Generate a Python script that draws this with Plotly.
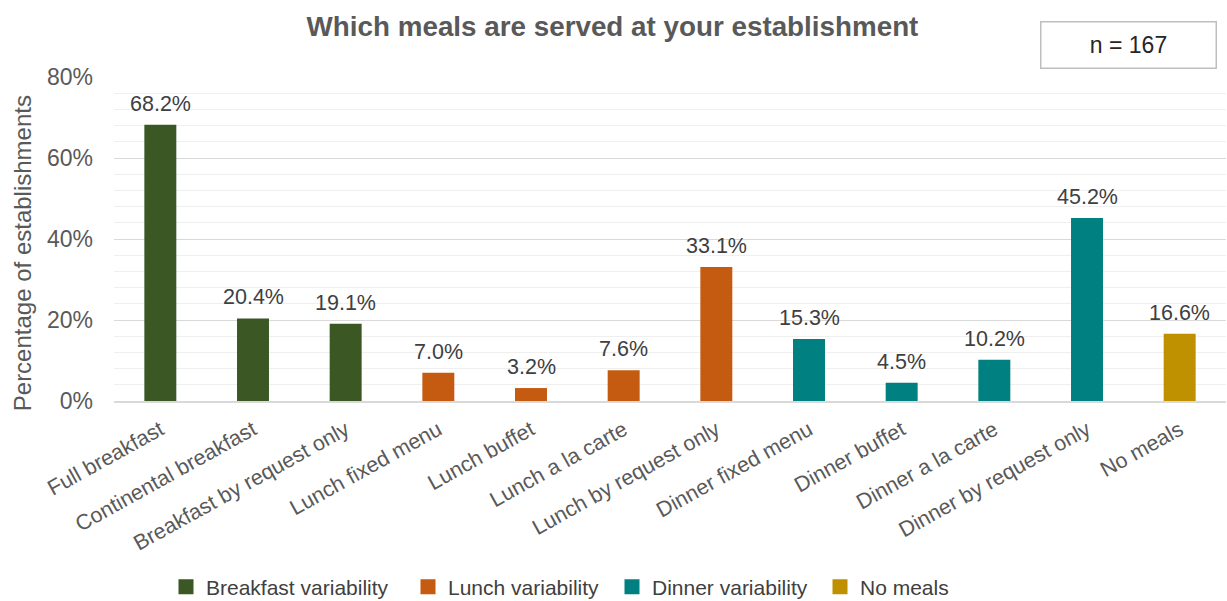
import plotly.graph_objects as go

# Meal types offered, grouped by meal
categories = [
    "Full breakfast", "Continental breakfast", "Breakfast by request only",
    "Lunch fixed menu", "Lunch buffet", "Lunch a la carte", "Lunch by request only",
    "Dinner fixed menu", "Dinner buffet", "Dinner a la carte", "Dinner by request only",
    "No meals",
]
values = [68.2, 20.4, 19.1, 7.0, 3.2, 7.6, 33.1, 15.3, 4.5, 10.2, 45.2, 16.6]
groups = [
    "Breakfast variability", "Breakfast variability", "Breakfast variability",
    "Lunch variability", "Lunch variability", "Lunch variability", "Lunch variability",
    "Dinner variability", "Dinner variability", "Dinner variability", "Dinner variability",
    "No meals",
]
group_names = ["Breakfast variability", "Lunch variability", "Dinner variability", "No meals"]
group_colors = ["#3a5724", "#c55a11", "#008080", "#bf9000"]
y_ticks = [0, 20, 40, 60, 80]
sample_size = 167

FONT = "Liberation Sans, Arial, sans-serif"
GREY = "#595959"
W, H = 1227, 601

# legend entry left edges (px) – each group gets its own one-item legend
legend_x = [166, 408, 612, 820]
legend_ids = ["legend", "legend2", "legend3", "legend4"]

fig = go.Figure()
for name, color, lid in zip(group_names, group_colors, legend_ids):
    xs = [c for c, g in zip(categories, groups) if g == name]
    ys = [v for v, g in zip(values, groups) if g == name]
    fig.add_trace(go.Bar(
        x=xs, y=ys, name=name, marker_color=color, marker_line_width=0,
        width=0.345, hoverinfo="x+y", showlegend=False,
    ))
    # legend swatch (square marker, no visible points)
    fig.add_trace(go.Scatter(
        x=[None], y=[None], mode="markers", name=name, legend=lid,
        marker=dict(symbol="square", size=15, color=color), showlegend=True,
    ))

# value labels above each bar
for c, v in zip(categories, values):
    fig.add_annotation(
        x=c, y=v, text=f"{v:.1f}%", showarrow=False, yanchor="bottom",
        yshift=7, font=dict(family=FONT, size=21.5, color="#404040"),
    )

# sample-size box
fig.add_annotation(
    xref="paper", yref="paper", x=(1217 - 114) / 1112, y=1.0 + (77 - 45.5) / 323.4,
    xanchor="right", yanchor="middle", text=f"n = {sample_size}", showarrow=False,
    font=dict(family=FONT, size=23, color="#262626"),
    bordercolor="#bfbfbf", borderwidth=1.5, width=172, height=43, bgcolor="white",
)

# y-axis title
fig.add_annotation(
    xref="paper", yref="paper", x=(22 - 114) / 1112, y=(401 - 253.5) / 323.4,
    xanchor="center", yanchor="middle",
    text="Percentage of establishments", textangle=-90, showarrow=False,
    font=dict(family=FONT, size=24, color=GREY),
)

legend_common = dict(
    orientation="h", xref="container", yref="container", xanchor="left",
    yanchor="middle", y=1 - 587 / H, bgcolor="rgba(0,0,0,0)",
    font=dict(family=FONT, size=21, color="#404040"), itemclick=False,
)
layout_legends = {lid: dict(legend_common, x=lx / W) for lid, lx in zip(legend_ids, legend_x)}

fig.update_layout(
    width=W, height=H,
    margin=dict(l=114, r=1, t=77, b=200),
    paper_bgcolor="white", plot_bgcolor="white",
    barmode="overlay",
    title=dict(
        text="<b>Which meals are served at your establishment</b>",
        x=612.5 / W, xanchor="center", y=1 - 26 / H, yanchor="middle",
        font=dict(family=FONT, size=27.8, color=GREY),
    ),
    showlegend=True,
    **layout_legends,
)

fig.update_xaxes(
    categoryorder="array", categoryarray=categories, automargin=False,
    tickangle=-29, tickfont=dict(family=FONT, size=21.5, color=GREY),
    showline=True, linecolor="#d9d9d9", linewidth=2,
    ticks="", showgrid=False, ticklabelstandoff=6,
)
fig.update_yaxes(
    range=[0, 80], tickvals=y_ticks, ticktext=[f"{t}%" for t in y_ticks],
    tickfont=dict(family=FONT, size=23, color=GREY), automargin=False,
    showgrid=True, gridcolor="#d9d9d9", gridwidth=1.2,
    minor=dict(dtick=4, showgrid=True, gridcolor="#efefef", gridwidth=1.2),
    zeroline=False, showline=False, ticks="", ticklabelstandoff=20,
)

fig.write_html("out.html")
